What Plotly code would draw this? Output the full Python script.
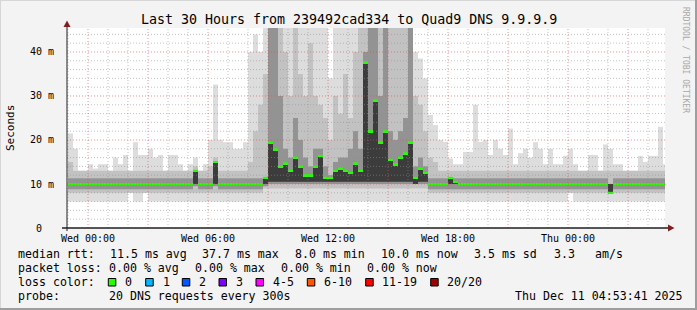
import pandas as pd
import plotly.graph_objects as go

# ---------------- data (15-minute columns, starting Tue 2025-12-09 23:00) ----------------
col_start = "2025-12-09 23:00"
col_freq = "15min"

# median rtt (ms)
med = [
    10, 10, 10, 10, 10, 10, 10, 10, 10, 10,
    10, 10, 10, 10, 10, 10, 10, 10, 10, 10,
    10, 10, 10, 10, 10, 13, 10, 10, 10, 15,
    10, 10, 10, 10, 10, 10, 10, 10, 10, 11.4,
    19.4, 17.9, 14, 14.7, 13, 16, 14, 12, 12, 14,
    16.4, 11.4, 11.4, 13, 13.5, 13, 12.5, 14.7, 13, 37.7,
    22, 29, 19.5, 22, 15.5, 14.5, 16, 17, 19.5, 11.4,
    13.5, 12.5, 10, 10, 10, 10, 11.4, 10.5, 10, 10,
    10, 10, 10, 10, 10, 10, 10, 10, 10, 10,
    10, 10, 10, 10, 10, 10, 10, 10, 10, 10,
    10, 10, 10, 10, 10, 10, 10, 10, 8, 10,
    10, 10, 10, 10, 10, 10, 10, 10, 10, 10,
]
# smoke: lowest ping
lo = [
    6, 6, 6, 6, 6, 6, 6, 6, 6, 6,
    6, 6, 8, 6, 6, 8, 6, 6, 6, 6,
    6, 6, 6, 6, 6, 6, 6, 6, 6, 6,
    6, 6, 6, 6, 6, 6, 6, 6, 6, 6,
    6, 6, 6, 6, 6, 6, 6, 6, 6, 6,
    6, 6, 6, 6, 6, 6, 6, 6, 6, 6,
    6, 6, 6, 6, 6, 6, 6, 6, 6, 6,
    6, 6, 6, 6, 6, 6, 6, 6, 6, 6,
    6, 6, 6, 6, 6, 6, 6, 6, 6, 6,
    6, 6, 6, 6, 6, 6, 6, 6, 6, 6,
    8, 6, 6, 6, 6, 6, 6, 6, 6, 6,
    6, 6, 6, 6, 6, 6, 6, 6, 6, 6,
]
# smoke: lower edge of the middle band
ilo = [
    8, 8, 8, 8, 8, 8, 8, 8, 8, 8,
    8, 8, 8, 8, 8, 8, 8, 8, 8, 8,
    8, 8, 8, 8, 8, 8, 8, 8, 8, 8,
    8, 8, 8, 8, 8, 8, 8, 8, 8, 9,
    9, 9, 9, 9, 9, 9, 9, 9, 9, 9,
    9, 9, 9, 9, 9, 9, 9, 9, 9, 9,
    9, 9, 9, 9, 9, 9, 9, 9, 9, 9,
    9, 9, 8, 8, 8, 8, 8, 8, 8, 8,
    8, 8, 8, 8, 8, 8, 8, 8, 8, 8,
    8, 8, 8, 8, 8, 8, 8, 8, 8, 8,
    8, 8, 8, 8, 8, 8, 8, 8, 8, 8,
    8, 8, 8, 8, 8, 8, 8, 8, 8, 8,
]
# smoke: lower edge of the dark band
dlo = [
    8.8, 8.8, 8.8, 8.8, 8.8, 8.8, 8.8, 8.8, 8.8, 8.8,
    8.8, 8.8, 8.8, 8.8, 8.8, 8.8, 8.8, 8.8, 8.8, 8.8,
    8.8, 8.8, 8.8, 8.8, 8.8, 9.5, 8.8, 8.8, 8.8, 9.5,
    8.8, 8.8, 8.8, 8.8, 8.8, 8.8, 8.8, 8.8, 8.8, 9.5,
    10, 10, 10, 10, 10, 10, 10, 10, 10, 10,
    10, 10, 10, 10, 10, 10, 10, 10, 10, 10,
    10, 10, 10, 10, 10, 10, 10, 10, 10, 10,
    10, 10, 8.8, 8.8, 8.8, 8.8, 8.8, 8.8, 8.8, 8.8,
    8.8, 8.8, 8.8, 8.8, 8.8, 8.8, 8.8, 8.8, 8.8, 8.8,
    8.8, 8.8, 8.8, 8.8, 8.8, 8.8, 8.8, 8.8, 8.8, 8.8,
    8.8, 8.8, 8.8, 8.8, 8.8, 8.8, 8.8, 8.8, 8, 8.8,
    8.8, 8.8, 8.8, 8.8, 8.8, 8.8, 8.8, 8.8, 8.8, 8.8,
]
# smoke: upper edge of the dark band
dhi = [
    11.3, 11.3, 11.3, 11.3, 11.3, 11.3, 11.3, 11.3, 11.3, 11.3,
    11.3, 11.3, 11.3, 11.3, 11.3, 11.3, 11.3, 11.3, 11.3, 11.3,
    11.3, 11.3, 11.3, 11.3, 11.3, 13, 11.3, 11.3, 11.3, 15,
    11.3, 11.3, 11.3, 11.3, 11.3, 11.3, 11.3, 11.3, 11.3, 11.4,
    46, 46, 30, 18, 16, 25, 20, 16, 14, 18,
    18, 14, 12, 15, 16, 16, 18, 22, 18, 40,
    46, 46, 30, 46, 22, 20, 22, 25, 46, 14,
    16, 14, 11.3, 11.3, 11.3, 11.3, 11.4, 11.3, 11.3, 11.3,
    11.3, 11.3, 11.3, 11.3, 11.3, 11.3, 11.3, 11.3, 11.3, 11.3,
    11.3, 11.3, 11.3, 11.3, 11.3, 11.3, 11.3, 11.3, 11.3, 11.3,
    11.3, 11.3, 11.3, 11.3, 11.3, 11.3, 11.3, 11.3, 10, 11.3,
    11.3, 11.3, 11.3, 11.3, 11.3, 11.3, 11.3, 11.3, 11.3, 11.3,
]
# smoke: lower end of the darkest core, which reaches up to the median
klo = [
    10, 10, 10, 10, 10, 10, 10, 10, 10, 10,
    10, 10, 10, 10, 10, 10, 10, 10, 10, 10,
    10, 10, 10, 10, 10, 10, 10, 10, 10, 10,
    10, 10, 10, 10, 10, 10, 10, 10, 10, 10,
    10.5, 10.5, 10.5, 10.5, 10.5, 10.5, 10.5, 10.5, 10.5, 10.5,
    10.5, 10.5, 10.5, 10.5, 10.5, 10.5, 10.5, 10.5, 10.5, 10.5,
    10.5, 10.5, 10.5, 10.5, 10.5, 10.5, 10.5, 10.5, 10.5, 10,
    10.5, 10.5, 10, 10, 10, 10, 10, 10, 10, 10,
    10, 10, 10, 10, 10, 10, 10, 10, 10, 10,
    10, 10, 10, 10, 10, 10, 10, 10, 10, 10,
    10, 10, 10, 10, 10, 10, 10, 10, 10, 10,
    10, 10, 10, 10, 10, 10, 10, 10, 10, 10,
]
# smoke: upper edge of the middle band
mhi = [
    15, 13, 13, 13, 13, 13, 13, 13, 13, 13,
    13, 13, 13, 13, 13, 13, 13, 13, 13, 13,
    13, 13, 13, 13, 13, 14, 13, 13, 14, 16,
    13, 13, 13, 13, 13, 13, 15, 22, 28, 35,
    46, 46, 46, 40, 30, 46, 35, 30, 42, 30,
    28, 25, 20, 30, 26, 35, 25, 40, 46, 46,
    46, 46, 46, 46, 46, 46, 46, 46, 46, 30,
    28, 22, 16, 15, 13, 13, 13, 13, 13, 13,
    13, 13, 13, 13, 13, 13, 13, 13, 13, 13,
    13, 13, 13, 13, 13, 13, 13, 13, 13, 13,
    13, 13, 13, 13, 13, 13, 13, 13, 13, 13,
    13, 13, 13, 13, 13, 13, 13, 13, 13, 13,
]
# smoke: highest ping
hi = [
    21.5, 18, 13, 13, 14.5, 13.5, 14.5, 14.5, 13, 16,
    14.5, 16.6, 13, 19.5, 16.6, 16.6, 18, 16, 16.6, 13,
    16.6, 16.6, 14.5, 13, 14.5, 16, 13, 14.5, 20, 32.6,
    20, 19.5, 19.5, 18, 18, 19.5, 40, 44, 40, 46,
    46, 46, 46, 46, 46, 46, 46, 46, 46, 46,
    46, 46, 34, 46, 46, 46, 46, 46, 46, 46,
    46, 46, 46, 46, 46, 46, 46, 46, 46, 40,
    38.5, 34, 25.7, 23.4, 20, 19.6, 15.8, 14.5, 14.5, 17.3,
    17.3, 28, 19.6, 20, 16.6, 20, 18, 16.6, 22.6, 14.5,
    17, 18, 16, 19.5, 18, 14.5, 18, 14.5, 14.5, 16.4,
    18, 14.5, 13, 13, 16.6, 16.6, 13, 19, 18, 14.5,
    14.5, 13, 13, 13, 16.4, 15, 16.4, 16.4, 23, 14.5,
]

x_tick_times = ["2025-12-10 00:00", "2025-12-10 06:00", "2025-12-10 12:00",
                "2025-12-10 18:00", "2025-12-11 00:00"]
x_tick_labels = ["Wed 00:00", "Wed 06:00", "Wed 12:00", "Wed 18:00", "Thu 00:00"]
y_tick_vals = [0, 10, 20, 30, 40]
y_tick_labels = ["0\u00a0\u00a0", "10 m", "20 m", "30 m", "40 m"]

title = "Last 30 Hours from 239492cad334 to Quad9 DNS 9.9.9.9"
legend_rows = [
    [("median rtt:", 16), ("11.5 ms avg", 107.7), ("37.7 ms max", 200), ("8.0 ms min", 293.3),
     ("10.0 ms now", 379.3), ("3.5 ms sd", 472.3), ("3.3", 551.7), ("am/s", 593.3)],
    [("packet loss:", 16), ("0.00 % avg", 107.3), ("0.00 % max", 193.3),
     ("0.00 % min", 279.3), ("0.00 % now", 365)],
    [("loss color:", 16)],
    [("probe:", 16), ("20 DNS requests every 300s", 107.3), ("Thu Dec 11 04:53:41 2025", 513.3)],
]
loss_labels = ["0", "1", "2", "3", "4-5", "6-10", "11-19", "20/20"]
loss_colors = ["#26ff00", "#00b8ff", "#0059ff", "#7e00ff", "#ff00ff", "#ff5500", "#ff0000", "#a10000"]
loss_box_x = [108.3, 145.7, 182.3, 219, 256, 307.3, 365.7, 430.7]
loss_text_x = [123.3, 160.7, 197.3, 234.3, 270.7, 322.3, 380, 445]

# ---------------- figure ----------------
W, H = 697, 310
PL, PR, PT, PB = 67, 665, 28, 228
MONO = "DejaVu Sans Mono"
YMAX = 45.45
times = pd.date_range(col_start, periods=len(med), freq=col_freq)
colw = pd.Timedelta(col_freq).total_seconds() * 1000


def px(x):
    return (x - PL) / (PR - PL)


def py(y):
    return (PB - y) / (PB - PT)


def band(lower, upper, color):
    return go.Bar(x=times, base=lower, y=[u - l for l, u in zip(lower, upper)],
                  width=colw, offset=0, marker=dict(color=color, line=dict(width=0)),
                  hoverinfo="skip", showlegend=False)


fig = go.Figure()
fig.add_trace(band(lo, hi, "#dddddd"))
fig.add_trace(band(ilo, mhi, "#c2c2c2"))
fig.add_trace(band(dlo, dhi, "#939393"))
fig.add_trace(band(klo, med, "#3c3c3c"))
thick = 0.45
fig.add_trace(band([m - thick / 2 for m in med], [m + thick / 2 for m in med], "#26ff00"))

shapes = []
# grid on top of the smoke
hours = pd.date_range("2025-12-09 23:00", "2025-12-11 04:00", freq="1h")
for hr in hours:
    major = hr.hour % 3 == 0
    shapes.append(dict(type="line", xref="x", yref="paper", x0=hr, x1=hr, y0=0, y1=1,
                       line=dict(color="rgba(222,79,79,0.6)" if major else "rgba(143,143,143,0.55)",
                                 width=1, dash="1px,2px"), layer="above"))
for v in range(2, 46, 2):
    major = v % 10 == 0
    shapes.append(dict(type="line", xref="paper", yref="y", x0=0, x1=1, y0=v, y1=v,
                       line=dict(color="rgba(222,79,79,0.6)" if major else "rgba(143,143,143,0.55)",
                                 width=1, dash="1px,2px"), layer="above"))
# axes with arrows
shapes.append(dict(type="line", xref="paper", yref="paper", x0=px(62), x1=px(669), y0=py(228), y1=py(228),
                   line=dict(color="#1f1f1f", width=1.5), layer="above"))
shapes.append(dict(type="line", xref="paper", yref="paper", x0=px(67), x1=px(67), y0=py(231), y1=py(25),
                   line=dict(color="#1f1f1f", width=1), layer="above"))
shapes.append(dict(type="path", xref="paper", yref="paper",
                   path=f"M {px(668)} {py(224.5)} L {px(674.5)} {py(228)} L {px(668)} {py(231.5)} Z",
                   fillcolor="#801f1f", line=dict(width=0), layer="above"))
shapes.append(dict(type="path", xref="paper", yref="paper",
                   path=f"M {px(63.5)} {py(27)} L {px(67)} {py(20.5)} L {px(70.5)} {py(27)} Z",
                   fillcolor="#801f1f", line=dict(width=0), layer="above"))
# image frame
shapes.append(dict(type="line", xref="paper", yref="paper", x0=px(0), x1=px(697), y0=py(0.5), y1=py(0.5),
                   line=dict(color="#d6d6d6", width=1)))
shapes.append(dict(type="line", xref="paper", yref="paper", x0=px(0.5), x1=px(0.5), y0=py(0), y1=py(310),
                   line=dict(color="#d6d6d6", width=1)))
shapes.append(dict(type="line", xref="paper", yref="paper", x0=px(0), x1=px(697), y0=py(309), y1=py(309),
                   line=dict(color="#9e9e9e", width=2)))
shapes.append(dict(type="line", xref="paper", yref="paper", x0=px(696), x1=px(696), y0=py(0), y1=py(310),
                   line=dict(color="#9e9e9e", width=2)))
# loss colour boxes
for bx, c in zip(loss_box_x, loss_colors):
    shapes.append(dict(type="rect", xref="paper", yref="paper", x0=px(bx), x1=px(bx + 7.5),
                       y0=py(286), y1=py(278.5), fillcolor=c, line=dict(color="black", width=1)))

ann = []
ann.append(dict(text=title, x=px(348.5), y=py(19), xref="paper", yref="paper", showarrow=False,
                xanchor="center", yanchor="middle", font=dict(family=MONO, size=13.3, color="black")))
ann.append(dict(text="Seconds", x=px(10), y=py(128), xref="paper", yref="paper", showarrow=False,
                textangle=-90, xanchor="center", yanchor="middle",
                font=dict(family=MONO, size=11, color="black")))
ann.append(dict(text="RRDTOOL / TOBI OETIKER", x=px(686), y=py(60), xref="paper", yref="paper",
                showarrow=False, textangle=90, xanchor="center", yanchor="middle",
                font=dict(family=MONO, size=8, color="#a8a8a8")))
row_y = [254, 268, 282, 296]
for ry, row in zip(row_y, legend_rows):
    for txt, tx in row:
        ann.append(dict(text=txt, x=px(tx), y=py(ry), xref="paper", yref="paper", showarrow=False,
                        xanchor="left", yanchor="middle", font=dict(family=MONO, size=11.6, color="black")))
for txt, tx in zip(loss_labels, loss_text_x):
    ann.append(dict(text=txt, x=px(tx), y=py(282), xref="paper", yref="paper", showarrow=False,
                    xanchor="left", yanchor="middle", font=dict(family=MONO, size=11.6, color="black")))

fig.update_layout(
    width=W, height=H,
    margin=dict(l=PL, r=W - PR, t=PT, b=H - PB, pad=0),
    paper_bgcolor="#f3f3f3", plot_bgcolor="#ffffff",
    barmode="overlay", showlegend=False,
    shapes=shapes, annotations=ann,
    xaxis=dict(type="date", range=["2025-12-09 22:57", "2025-12-11 04:51"],
               tickvals=x_tick_times, ticktext=x_tick_labels, showgrid=False, zeroline=False,
               showline=False, ticks="", ticklabelstandoff=3,
               tickfont=dict(family=MONO, size=10, color="black")),
    yaxis=dict(range=[0, YMAX], tickvals=y_tick_vals, ticktext=y_tick_labels, showgrid=False,
               zeroline=False, showline=False, ticks="", ticklabelstandoff=12,
               tickfont=dict(family=MONO, size=10, color="black")),
)

fig.write_html("out.html")
